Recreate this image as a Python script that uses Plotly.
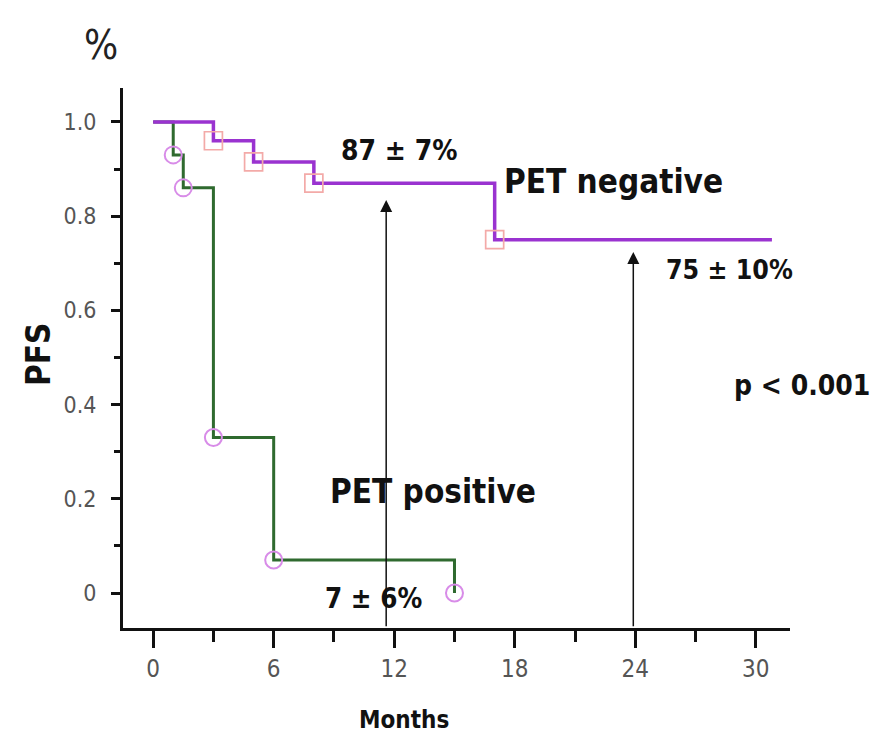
import plotly.graph_objects as go

# Kaplan-Meier progression-free survival by interim PET result
neg_months = [0, 3, 5, 8, 17, 30.8]
neg_pfs = [1.0, 0.96, 0.915, 0.87, 0.75, 0.75]
neg_mark_months = [3, 5, 8, 17]
neg_mark_pfs = [0.96, 0.915, 0.87, 0.75]

pos_months = [0, 1, 1.5, 3, 6, 15]
pos_pfs = [1.0, 0.93, 0.86, 0.33, 0.07, 0.0]
pos_mark_months = [1, 1.5, 3, 6, 15]
pos_mark_pfs = [0.93, 0.86, 0.33, 0.07, 0.0]

x_ticks = [0, 6, 12, 18, 24, 30]
y_ticks = [0, 0.2, 0.4, 0.6, 0.8, 1.0]
y_tick_text = ["0", "0.2", "0.4", "0.6", "0.8", "1.0"]

# arrows marking the 12- and 24-month estimates
arrow_months = [11.6, 23.9]
arrow_tips = [0.834, 0.724]

FONT = "DejaVu Sans Condensed, Liberation Sans Narrow, Arial Narrow, sans-serif"
PURPLE = "#9a33d0"
GREEN = "#2f6a2f"
CIRCLE = "#d88ce8"
SQUARE = "#f3aaa8"

W, H = 891, 746
ML, MR, MT, MB = 123, 101, 88, 118
PW, PH = W - ML - MR, H - MT - MB


def px_to_paper(px, py):
    return (px - ML) / PW, (H - MB - py) / PH


fig = go.Figure()

fig.add_trace(go.Scatter(
    x=pos_months, y=pos_pfs, mode="lines", line_shape="hv",
    line=dict(color=GREEN, width=3), hoverinfo="skip", showlegend=False))
fig.add_trace(go.Scatter(
    x=neg_months, y=neg_pfs, mode="lines", line_shape="hv",
    line=dict(color=PURPLE, width=3.5), hoverinfo="skip", showlegend=False))
fig.add_trace(go.Scatter(
    x=pos_mark_months, y=pos_mark_pfs, mode="markers",
    marker=dict(symbol="circle-open", size=17, color=CIRCLE, line=dict(width=2)),
    showlegend=False))
fig.add_trace(go.Scatter(
    x=neg_mark_months, y=neg_mark_pfs, mode="markers",
    marker=dict(symbol="square-open", size=18, color=SQUARE, line=dict(width=1.7)),
    showlegend=False))

annotations = []
for xm, tip in zip(arrow_months, arrow_tips):
    annotations.append(dict(
        x=xm, y=tip, ax=xm, ay=-0.074, xref="x", yref="y", axref="x", ayref="y",
        showarrow=True, arrowhead=2, arrowsize=1.6, arrowwidth=1.5,
        arrowcolor="#111111", text=""))

# in-plot labels: text, month, PFS value, font size
labels = [
    ("87 ± 7%", 12.25, 0.94, 28),
    ("PET negative", 22.9, 0.873, 33),
    ("75 ± 10%", 28.7, 0.686, 26.5),
    ("PET positive", 13.95, 0.215, 33),
    ("7 ± 6%", 10.95, -0.01, 27.5),
]
for text, xm, yv, size in labels:
    annotations.append(dict(
        x=xm, y=yv, xref="x", yref="y", text="<b>" + text + "</b>",
        showarrow=False, font=dict(family=FONT, size=size, color="#111111")))

# labels positioned in figure pixels
for text, px, py, size, angle, color in [
    ("<b>p < 0.001</b>", 802, 385, 28, 0, "#111111"),
    ("%", 101, 45, 40, 0, "#222222"),
    ("<b>Months</b>", 404, 720, 24, 0, "#111111"),
    ("<b>PFS</b>", 38, 355, 33, -90, "#111111"),
]:
    xp, yp = px_to_paper(px, py)
    annotations.append(dict(
        x=xp, y=yp, xref="paper", yref="paper", text=text, showarrow=False,
        xanchor="center", yanchor="middle", textangle=angle,
        font=dict(family=FONT, size=size, color=color)))

fig.update_layout(
    width=W, height=H,
    margin=dict(l=ML, r=MR, t=MT, b=MB),
    paper_bgcolor="white", plot_bgcolor="white",
    font=dict(family=FONT, color="#555555"),
    annotations=annotations,
)

fig.update_xaxes(
    range=[-1.5, 31.7], showgrid=False, zeroline=False,
    showline=True, linecolor="#111111", linewidth=3,
    tickmode="array", tickvals=x_ticks, ticks="outside", ticklen=17,
    tickwidth=2.5, tickcolor="#111111",
    tickfont=dict(family=FONT, size=24, color="#555555"),
    minor=dict(dtick=3, tick0=0, ticks="outside", ticklen=11, tickwidth=2.5,
               tickcolor="#111111"),
)
fig.update_yaxes(
    range=[-0.0743, 1.072], showgrid=False, zeroline=False,
    showline=True, linecolor="#111111", linewidth=3,
    tickmode="array", tickvals=y_ticks, ticktext=y_tick_text, ticks="outside",
    ticklen=9, tickwidth=2.5, tickcolor="#111111", ticklabelstandoff=10,
    tickfont=dict(family=FONT, size=23, color="#555555"),
    minor=dict(dtick=0.1, tick0=0, ticks="outside", ticklen=6, tickwidth=2.5,
               tickcolor="#111111"),
)

fig.write_html("out.html")
